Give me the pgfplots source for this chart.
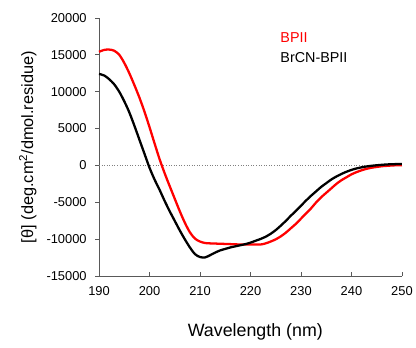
\documentclass[border=0pt]{standalone}
\usepackage{fontspec}
\setmainfont{Liberation Sans}
\usepackage{pgfplots}
\pgfplotsset{compat=1.18}
\begin{document}
\begin{tikzpicture}
\begin{axis}[
  scale only axis, width=306pt, height=261pt,
  xmin=190, xmax=250, ymin=-15000, ymax=20000,
  xtick={190,200,...,250}, ytick={-15000,-10000,...,20000},
  axis x line*=bottom, axis y line*=left,
  axis line style={gray!70!black, line width=0.6pt, -},
  every tick/.style={gray!70!black, line width=0.6pt},
  xtick align=inside, ytick align=outside,
  major tick length=4pt,
  /pgf/number format/assume math mode=true,
  /pgf/number format/.cd, 1000 sep={}, /pgfplots/.cd,
  tick label style={font=\fontsize{13}{15}\selectfont},
  xticklabel style={yshift=-7pt},
  yticklabel style={xshift=-5pt},
  scaled y ticks=false,
  xlabel={Wavelength (nm)},
  ylabel={[θ] (deg.cm\textsuperscript{2}/dmol.residue)},
  every axis x label/.style={at={(axis description cs:0.516,-0.215)}, anchor=center, font=\fontsize{18}{20}\selectfont},
  every axis y label/.style={at={(axis description cs:-0.235,0.5)}, anchor=center, rotate=90, font=\fontsize{16.5}{18}\selectfont},
  clip=false,
]
\addplot[gray, dotted, line width=0.6pt, forget plot] coordinates {(190,0) (250,0)};
\addplot[red, line width=2.3pt, smooth] coordinates {
(190,15400) (191,15650) (192,15700) (193,15550) (194,15000) (195,13900) (196,12500)
(197,10900) (198,9200) (199,7300) (200,5200) (201,3000) (202,850) (203,-1050)
(204,-2800) (205,-4500) (206,-6200) (207,-7750) (208,-9050) (209,-9900) (210,-10300)
(211,-10500) (212,-10550) (214,-10600) (216,-10650) (218,-10700) (220,-10700) (222,-10700)
(223,-10550) (224,-10300) (225,-10000) (226,-9600) (227,-9100) (228,-8500) (229,-7900)
(230,-7200) (231,-6500) (232,-5800) (233,-5000) (234,-4300) (235,-3700) (236,-3100)
(237,-2500) (238,-2000) (239,-1600) (240,-1200) (241,-900) (242,-650) (243,-450)
(244,-300) (245,-200) (246,-100) (247,-50) (248,0) (249,30) (250,50)
};
\addplot[black, line width=2.3pt, smooth] coordinates {
(190,12400) (191,12200) (192,11700) (193,11000) (194,10000) (195,8700) (196,7200)
(197,5400) (198,3500) (199,1600) (200,-300) (201,-1900) (202,-3300) (203,-4800)
(204,-6200) (205,-7500) (206,-8800) (207,-10000) (208,-11100) (209,-12000) (210,-12400)
(211,-12450) (212,-12150) (213,-11800) (214,-11500) (215,-11300) (216,-11100) (217,-10950)
(218,-10800) (219,-10650) (220,-10450) (221,-10200) (222,-9950) (223,-9650) (224,-9250)
(225,-8750) (226,-8150) (227,-7500) (228,-6800) (229,-6150) (230,-5450) (231,-4750)
(232,-4100) (233,-3500) (234,-2900) (235,-2400) (236,-1900) (237,-1500) (238,-1150)
(239,-850) (240,-600) (241,-400) (242,-250) (243,-130) (244,-40) (245,30) (246,90)
(247,140) (248,170) (249,190) (250,200)
};
\node[anchor=west, text=red, font=\fontsize{14.5}{16}\selectfont, inner sep=0pt] at (axis cs:225.9,17300) {BPII};
\node[anchor=west, text=black, font=\fontsize{14.5}{16}\selectfont, inner sep=0pt] at (axis cs:225.9,14650) {BrCN-BPII};
\end{axis}
\path (current axis.south west) +(-100pt,-72pt);
\path (current axis.north east) +(10pt,18pt);
\end{tikzpicture}
\end{document}
